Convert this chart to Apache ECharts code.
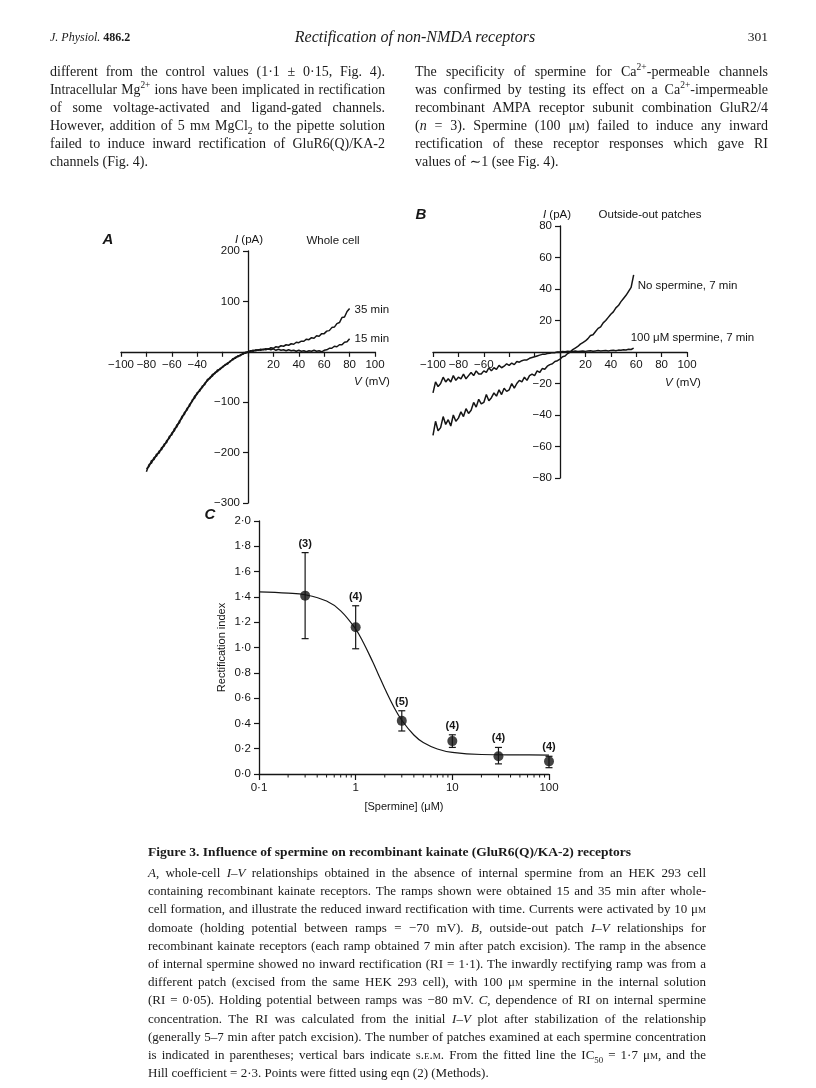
<!DOCTYPE html>
<html>
<head>
<meta charset="utf-8">
<script src="https://cdn.jsdelivr.net/npm/echarts@6/dist/echarts.min.js"></script>
<style>
  html, body { margin: 0; padding: 0; background: #fff; }
  #page { position: relative; width: 816px; height: 1088px; overflow: hidden; }
  #chart { position: absolute; left: 0; top: 0; width: 816px; height: 1088px; }
  .t { position: absolute; font-family: "Liberation Serif", "DejaVu Serif", serif; color: #1a1a1a; white-space: nowrap; }
  .ln { position: absolute; font-family: "Liberation Serif", "DejaVu Serif", serif; color: #1a1a1a;
        line-height: 18px; text-align: justify; text-align-last: justify; }
  .last { text-align-last: left; }
  .body { font-size: 14px; }
  .cap { font-size: 13px; }
  .sc { font-variant: small-caps; }
  sup, sub { font-size: 0.68em; line-height: 0; }
</style>
</head>
<body>
<div id="page">
  <div id="chart"></div>

  <!-- running head -->
  <div class="t" style="left:50px;top:30px;font-size:12px;"><i>J. Physiol.</i> <b>486.2</b></div>
  <div class="t" style="left:415px;top:28px;font-size:16px;transform:translateX(-50%);"><i>Rectification of non-NMDA receptors</i></div>
  <div class="t" style="right:48px;top:29px;font-size:13.5px;">301</div>

  <!-- left column -->
  <div class="ln body" style="left:50px;top:63px;width:335px;">different from the control values (1·1 ± 0·15, Fig. 4).</div>
  <div class="ln body" style="left:50px;top:81px;width:335px;">Intracellular Mg<sup>2+</sup> ions have been implicated in rectification</div>
  <div class="ln body" style="left:50px;top:99px;width:335px;">of some voltage-activated and ligand-gated channels.</div>
  <div class="ln body" style="left:50px;top:117px;width:335px;">However, addition of 5 m<span class="sc">m</span> MgCl<sub>2</sub> to the pipette solution</div>
  <div class="ln body" style="left:50px;top:135px;width:335px;">failed to induce inward rectification of GluR6(Q)/KA-2</div>
  <div class="ln body last" style="left:50px;top:153px;width:335px;">channels (Fig. 4).</div>

  <!-- right column -->
  <div class="ln body" style="left:415px;top:63px;width:353px;">The specificity of spermine for Ca<sup>2+</sup>-permeable channels</div>
  <div class="ln body" style="left:415px;top:81px;width:353px;">was confirmed by testing its effect on a Ca<sup>2+</sup>-impermeable</div>
  <div class="ln body" style="left:415px;top:99px;width:353px;">recombinant AMPA receptor subunit combination GluR2/4</div>
  <div class="ln body" style="left:415px;top:117px;width:353px;">(<i>n</i> = 3). Spermine (100 μ<span class="sc">m</span>) failed to induce any inward</div>
  <div class="ln body" style="left:415px;top:135px;width:353px;">rectification of these receptor responses which gave RI</div>
  <div class="ln body last" style="left:415px;top:153px;width:353px;">values of ∼1 (see Fig. 4).</div>

  <!-- legend -->
  <div class="t" style="left:148px;top:844px;font-size:13.5px;"><b>Figure 3. Influence of spermine on recombinant kainate (GluR6(Q)/KA-2) receptors</b></div>
  <div class="ln cap" style="left:148px;top:864px;width:558px;"><i>A</i>, whole-cell <i>I–V</i> relationships obtained in the absence of internal spermine from an HEK 293 cell</div>
  <div class="ln cap" style="left:148px;top:882px;width:558px;">containing recombinant kainate receptors. The ramps shown were obtained 15 and 35 min after whole-</div>
  <div class="ln cap" style="left:148px;top:900px;width:558px;">cell formation, and illustrate the reduced inward rectification with time. Currents were activated by 10 μ<span class="sc">m</span></div>
  <div class="ln cap" style="left:148px;top:919px;width:558px;">domoate (holding potential between ramps = −70 mV). <i>B</i>, outside-out patch <i>I–V</i> relationships for</div>
  <div class="ln cap" style="left:148px;top:937px;width:558px;">recombinant kainate receptors (each ramp obtained 7 min after patch excision). The ramp in the absence</div>
  <div class="ln cap" style="left:148px;top:955px;width:558px;">of internal spermine showed no inward rectification (RI = 1·1). The inwardly rectifying ramp was from a</div>
  <div class="ln cap" style="left:148px;top:973px;width:558px;">different patch (excised from the same HEK 293 cell), with 100 μ<span class="sc">m</span> spermine in the internal solution</div>
  <div class="ln cap" style="left:148px;top:991px;width:558px;">(RI = 0·05). Holding potential between ramps was −80 mV. <i>C</i>, dependence of RI on internal spermine</div>
  <div class="ln cap" style="left:148px;top:1010px;width:558px;">concentration. The RI was calculated from the initial <i>I–V</i> plot after stabilization of the relationship</div>
  <div class="ln cap" style="left:148px;top:1028px;width:558px;">(generally 5–7 min after patch excision). The number of patches examined at each spermine concentration</div>
  <div class="ln cap" style="left:148px;top:1046px;width:558px;">is indicated in parentheses; vertical bars indicate <span class="sc">s.e.m.</span> From the fitted line the IC<sub>50</sub> = 1·7 μ<span class="sc">m</span>, and the</div>
  <div class="ln cap last" style="left:148px;top:1064px;width:558px;">Hill coefficient = 2·3. Points were fitted using eqn (2) (Methods).</div>
</div>

<script>
// shrink any text line that would wrap
document.querySelectorAll('.ln').forEach(function (el) {
  let fs = parseFloat(getComputedStyle(el).fontSize);
  while (el.offsetHeight > 20 && fs > 8) {
    fs -= 0.25;
    el.style.fontSize = fs + 'px';
  }
});

// ---- panel A: whole cell ramps ----
const voltA = [-80,-78,-76,-74,-72,-70,-68,-66,-64,-62,-60,-58,-56,-54,-52,-50,-48,-46,-44,-42,-40,
  -38,-36,-34,-32,-30,-28,-26,-24,-22,-20,-18,-16,-14,-12,-10,-8,-6,-4,-2,0,
  2,4,6,8,10,12,14,16,18,20,22,24,26,28,30,32,34,36,38,40,
  42,44,46,48,50,52,54,56,58,60,62,64,66,68,70,72,74,76,78,80];
const cur35min = [-238,-224,-221,-210,-207,-197,-194,-183,-180,-168,-165,-153,-149,-137,-132,-120,-116,-104,-99,-88,-84,
  -75,-71,-62,-58,-51,-48,-41,-39,-33,-31,-25,-24,-18,-16,-11,-10,-6,-5,-1,0,
  2,1,4,3,5,4,6,5,8,7,10,9,12,11,14,13,16,15,19,18,
  21,21,25,24,28,27,32,31,36,36,41,42,48,49,56,58,68,69,80,86];
const cur15min = [-232,-228,-216,-214,-203,-201,-190,-187,-176,-172,-161,-157,-145,-141,-128,-124,-112,-108,-96,-92,-81,
  -78,-68,-65,-55,-53,-45,-43,-36,-35,-29,-27,-22,-20,-14,-13,-8,-8,-3,-3,0,
  1,3,2,4,3,5,4,6,4,6,3,5,3,4,2,4,2,3,1,3,
  1,2,0,2,1,3,1,2,0,3,4,7,7,11,10,14,14,19,20,26];

// ---- panel B: outside-out patches ----
const voltB = [-100,-98,-96,-94,-92,-90,-88,-86,-84,-82,-80,-78,-76,-74,-72,-70,-68,-66,-64,-62,
  -60,-58,-56,-54,-52,-50,-48,-46,-44,-42,-40,-38,-36,-34,-32,-30,-28,-26,-24,-22,
  -20,-18,-16,-14,-12,-10,-8,-6,-4,-2,0,2,4,6,8,10,12,14,16,18,
  20,22,24,26,28,30,32,34,36,38,40,42,44,46,48,50,52,54,56,58];
const curNoSpermine = [-53,-44,-50,-48,-41,-46,-43,-47,-40,-44,-42,-38,-41,-36,-39,-37,-32,-35,-30,-33,
  -32,-27,-31,-29,-26,-28,-24,-27,-23,-25,-24,-20,-23,-20,-18,-19,-16,-18,-15,-14,
  -15,-12,-13,-10.5,-11,-9,-8,-7.5,-6,-5.5,-4.5,-3,-2.5,-1,0,1.5,2.5,3.5,5,6,
  7,8.5,10.5,11,13,15,16,18.5,20,22,24,25.5,28,29.5,32,34,36,38.5,41,49];
const curSpermine = [-26,-19,-22,-20,-16,-19,-17,-19,-15,-18,-16,-17,-14,-17,-15,-13,-15,-12,-14,-14,
  -12,-13,-10,-12,-10,-11,-8.5,-10,-9,-7.5,-8.5,-7,-8,-6,-6.5,-5.5,-5,-5,-4,-3.5,
  -3,-2.5,-2,-1.5,-1.5,-1,-0.8,-0.4,-0.4,0,0,0.3,0.2,0.5,0.3,0.4,0.6,0.3,0.5,0.7,
  0.4,0.6,0.8,0.5,0.7,0.9,0.6,0.8,1,0.7,0.9,1.1,0.8,1.2,1.1,1.4,1.3,1.7,1.6,2.5];

// ---- panel C: rectification index vs [spermine] ----
const spermineConc = [0.3, 1, 3, 10, 30, 100];
const rectIndex = [1.41, 1.16, 0.42, 0.26, 0.14, 0.1];
const rectLow = [1.07, 0.99, 0.34, 0.21, 0.08, 0.05];
const rectHigh = [1.75, 1.33, 0.50, 0.31, 0.21, 0.14];
const nPatches = [3, 4, 5, 4, 4, 4];
const fitConc = [0.1, 0.2, 0.3, 0.5, 0.7, 1, 1.2, 1.5, 1.7, 2, 2.5, 3, 4, 5, 7, 10, 20, 50, 100];
const fitIndex = [1.44, 1.43, 1.417, 1.367, 1.29, 1.146, 1.04, 0.887, 0.795, 0.676, 0.526, 0.425, 0.308, 0.249, 0.198, 0.171, 0.154, 0.151, 0.15];
const minorTickConc = [0.2,0.3,0.4,0.5,0.6,0.7,0.8,0.9,2,3,4,5,6,7,8,9,20,30,40,50,60,70,80,90];

const INK = '#151515';
const SANS = '"Liberation Sans", Arial, Helvetica, sans-serif';
const pair = (xs, ys) => xs.map((x, i) => [x, ys[i]]);
const minus = v => String(v).replace('-', '\u2212');
const dot = v => v.toFixed(1).replace('.', '\u00b7');

const axisBase = {
  axisLine: { onZero: false, lineStyle: { color: INK, width: 1.3 } },
  axisTick: { show: true, length: 5, lineStyle: { color: INK, width: 1.2 } },
  splitLine: { show: false },
  axisLabel: { color: INK, fontFamily: SANS, fontSize: 11.5, showMinLabel: true, showMaxLabel: true }
};
const ax = (extra) => echarts.util.merge(echarts.util.clone(axisBase), extra, true);

// grid boxes (panel A, B, C)
const gA = { left: 121, top: 251, width: 254, height: 252 };
const gB = { left: 433, top: 226, width: 254, height: 252 };
const gC = { left: 259, top: 521, width: 290, height: 253 };

// shift the I-V axes so they cross at zero
const zeroX = (g, min, max) => g.width * (0 - min) / (max - min);
const zeroY = (g, min, max) => g.height * (0 - min) / (max - min);

const hideA = [-20, 0];
const hideB = [-40, -20, 0];

const traceStyle = { color: INK, width: 1.5 };
const endLab = (txt, offset) => ({
  show: true, formatter: txt, color: INK, fontFamily: SANS, fontSize: 11.5, distance: 5, offset: offset
});
const label = (x, y, text, font) => ({
  type: 'text', x: x, y: y,
  style: { text: text, font: font || ('11.5px ' + SANS), fill: INK, align: 'center', verticalAlign: 'middle',
    rich: { i: { fontStyle: 'italic', fontFamily: SANS, fontSize: 11.5 } } }
});

const chart = echarts.init(document.getElementById('chart'));
chart.setOption({
  animation: false,
  backgroundColor: 'transparent',
  grid: [
    Object.assign({ outerBoundsMode: 'none' }, gA),
    Object.assign({ outerBoundsMode: 'none' }, gB),
    Object.assign({ outerBoundsMode: 'none' }, gC)
  ],
  xAxis: [
    ax({ type: 'value', gridIndex: 0, min: -100, max: 100, interval: 20, position: 'bottom',
      offset: -zeroY(gA, -300, 200),
      axisLabel: { margin: 7, formatter: v => hideA.includes(v) ? '' : minus(v) } }),
    ax({ type: 'value', gridIndex: 1, min: -100, max: 100, interval: 20, position: 'bottom',
      offset: -zeroY(gB, -80, 80),
      axisLabel: { margin: 7, formatter: v => hideB.includes(v) ? '' : minus(v) } }),
    ax({ type: 'log', gridIndex: 2, min: 0.1, max: 100, logBase: 10,
      axisTick: { length: 6 },
      axisLabel: { margin: 8, formatter: v => v < 0.5 ? '0\u00b71' : String(Math.round(v)) },
      name: '[Spermine] (\u03bcM)', nameLocation: 'middle', nameGap: 27,
      nameTextStyle: { color: INK, fontFamily: SANS, fontSize: 11 } })
  ],
  yAxis: [
    ax({ type: 'value', gridIndex: 0, min: -300, max: 200, interval: 100, position: 'left',
      offset: -zeroX(gA, -100, 100),
      axisLabel: { margin: 8, formatter: v => v === 0 ? '' : minus(v) } }),
    ax({ type: 'value', gridIndex: 1, min: -80, max: 80, interval: 20, position: 'left',
      offset: -zeroX(gB, -100, 100),
      axisLabel: { margin: 8, formatter: v => v === 0 ? '' : minus(v) } }),
    ax({ type: 'value', gridIndex: 2, min: 0, max: 2, interval: 0.2,
      axisLabel: { margin: 8, formatter: dot },
      name: 'Rectification index', nameLocation: 'middle', nameGap: 32, nameRotate: 90,
      nameTextStyle: { color: INK, fontFamily: SANS, fontSize: 11 } })
  ],
  graphic: [
    label(108, 240, 'A', 'italic bold 15px ' + SANS),
    label(249, 240, '{i|I} (pA)'),
    label(333, 241, 'Whole cell'),
    label(372, 382, '{i|V} (mV)'),
    label(421, 215, 'B', 'italic bold 15px ' + SANS),
    label(557, 215, '{i|I} (pA)'),
    label(650, 215, 'Outside-out patches'),
    label(683, 383, '{i|V} (mV)'),
    label(210, 515, 'C', 'italic bold 15px ' + SANS)
  ],
  series: [
    { name: '35 min', type: 'line', xAxisIndex: 0, yAxisIndex: 0, data: pair(voltA, cur35min),
      showSymbol: false, lineStyle: traceStyle, endLabel: endLab('35 min', [0, 1]) },
    { name: '15 min', type: 'line', xAxisIndex: 0, yAxisIndex: 0, data: pair(voltA, cur15min),
      showSymbol: false, lineStyle: traceStyle, endLabel: endLab('15 min', [0, 0]) },

    { name: 'No spermine', type: 'line', xAxisIndex: 1, yAxisIndex: 1, data: pair(voltB, curNoSpermine),
      showSymbol: false, lineStyle: traceStyle, endLabel: endLab('No spermine, 7 min', [-1, 11]) },
    { name: '100 uM spermine', type: 'line', xAxisIndex: 1, yAxisIndex: 1, data: pair(voltB, curSpermine),
      showSymbol: false, lineStyle: traceStyle, endLabel: endLab('100 \u03bcM spermine, 7 min', [-8, -10]) },

    { name: 'fit', type: 'line', xAxisIndex: 2, yAxisIndex: 2, data: pair(fitConc, fitIndex),
      showSymbol: false, smooth: 0.4, lineStyle: { color: INK, width: 1.2 } },
    { name: 'sem', type: 'custom', xAxisIndex: 2, yAxisIndex: 2,
      data: spermineConc.map((c, i) => [c, rectLow[i], rectHigh[i], nPatches[i]]),
      renderItem: function (params, api) {
        const lo = api.coord([api.value(0), api.value(1)]);
        const hi = api.coord([api.value(0), api.value(2)]);
        const st = { stroke: INK, lineWidth: 1.2 };
        const cap = 3.5;
        return { type: 'group', children: [
          { type: 'line', shape: { x1: lo[0], y1: lo[1], x2: hi[0], y2: hi[1] }, style: st },
          { type: 'line', shape: { x1: lo[0] - cap, y1: lo[1], x2: lo[0] + cap, y2: lo[1] }, style: st },
          { type: 'line', shape: { x1: hi[0] - cap, y1: hi[1], x2: hi[0] + cap, y2: hi[1] }, style: st },
          { type: 'text', x: hi[0], y: hi[1] - 9,
            style: { text: '(' + api.value(3) + ')', font: 'bold 11px ' + SANS, fill: INK, align: 'center', verticalAlign: 'middle' } }
        ] };
      }
    },
    { name: 'RI', type: 'scatter', xAxisIndex: 2, yAxisIndex: 2, data: pair(spermineConc, rectIndex),
      symbol: 'circle', symbolSize: 10, itemStyle: { color: INK } },
    { name: 'minor ticks', type: 'custom', xAxisIndex: 2, yAxisIndex: 2, silent: true, clip: false,
      data: minorTickConc.map(c => [c, 0]),
      renderItem: function (params, api) {
        const p = api.coord([api.value(0), 0]);
        return { type: 'line', shape: { x1: p[0], y1: p[1], x2: p[0], y2: p[1] + 3.5 },
          style: { stroke: INK, lineWidth: 1 } };
      }
    }
  ]
});
</script>
</body>
</html>
